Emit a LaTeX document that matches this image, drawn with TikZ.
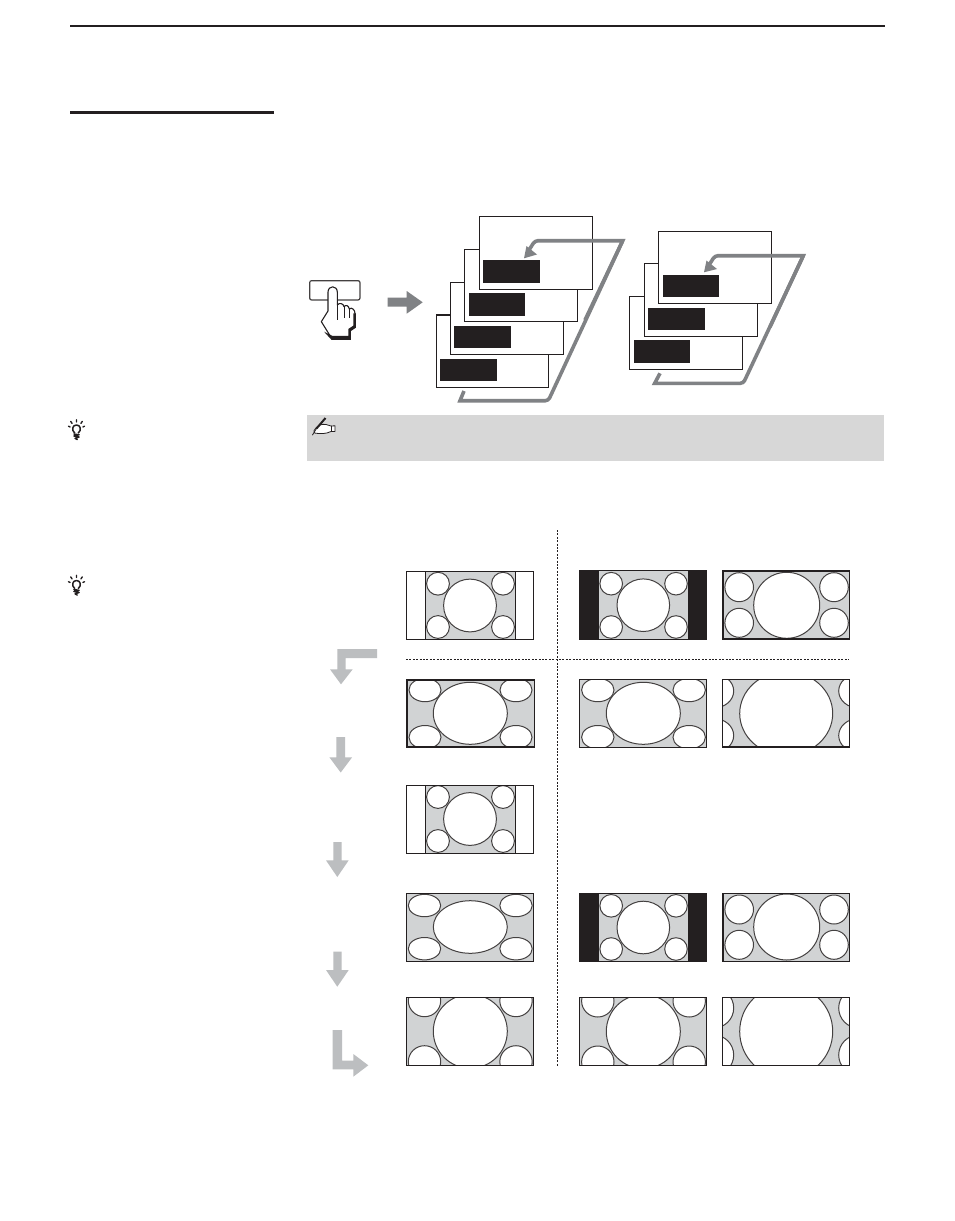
\documentclass[tikz,border=0pt]{standalone}
\definecolor{tvgray}{HTML}{D1D3D4}
\definecolor{tvblack}{HTML}{231F20}
\definecolor{notegray}{HTML}{D7D7D7}
\definecolor{loopgray}{HTML}{808285}
\definecolor{stepgray}{HTML}{BCBEC0}
\tikzset{
  x=1pt,y=-1pt,
  sheet/.style={draw=tvblack,fill=white,line width=1.1pt},
  label bar/.style={fill=tvblack},
  loop line/.style={draw=loopgray,line width=3.6pt,line cap=butt,line join=miter},
  loop head/.style={fill=loopgray},
  step arrow/.style={fill=stepgray},
  tv frame/.style={draw=tvblack,line width=#1},
  disc/.style={draw=tvblack!85,fill=white,line width=1pt},
  divider/.style={draw=tvblack,line width=.9pt,dash pattern=on 2pt off 1.4pt},
  icon/.style={draw=tvblack,line width=.9pt,line join=round,line cap=round},
}
% x0 y0 x1 y1 frame-width side-colour gray-x0 gray-x1 discs
\newcommand{\tvpanel}[9]{%
  \begin{scope}
    \clip (#1,#2) rectangle (#3,#4);
    \fill[#6] (#1,#2) rectangle (#3,#4);
    \fill[tvgray] (#7,#2) rectangle (#8,#4);
    #9
  \end{scope}
  \draw[tv frame=#5] (#1,#2) rectangle (#3,#4);
}
\newcommand{\el}[4]{\draw[disc] (#1,#2) ellipse [x radius=#3pt,y radius=#4pt];}
\newcommand{\sheetwithbar}[8]{%
  \draw[sheet] (#1,#2) rectangle (#3,#4);
  \fill[label bar] (#5,#6) rectangle (#7,#8);
}
\newcommand{\tipicon}[2]{%
  \begin{scope}[shift={(#1,#2)}]
    \draw[icon,line width=1.5pt] (-1.8,4) .. controls (-5.4,1) and (-4,-4) .. (0,-4) .. controls (4,-4) and (5.4,1) .. (1.8,4);
    \draw[icon,line width=1.4pt] (0,-7) -- (0,-9.2) (-4.4,-5.6) -- (-5.8,-7.6) (4.4,-5.6) -- (5.8,-7.6) (-6.4,-2) -- (-8,-2.8) (6.4,-2) -- (8,-2.8);
    \draw[icon,line width=1.4pt] (-2.6,5) -- (2.6,5.8) -- (-2.6,7) -- (2.6,8) -- (-1.4,9.4) -- (.8,10.6);
  \end{scope}
}
\begin{document}
\begin{tikzpicture}
\useasboundingbox (0,0) rectangle (954,1221);
\fill[white] (0,0) rectangle (954,1221);
% page rules
\draw[tvblack,line width=2pt] (70,26) -- (885,26);
\draw[tvblack,line width=3pt] (70,112.5) -- (274,112.5);
% button and hand
\begin{scope}[shift={(300,205)},x=.3333pt,y=-.3333pt]
  \draw[draw=tvblack!85,fill=white,line width=1.2pt,rounded corners=2pt] (29,227) rectangle (180,285);
  \draw[draw=tvblack,fill=white,line width=1.1pt,line join=round] (64,350) -- (84,318) -- (84,262) .. controls (84,240) and (112,240) .. (112,262) -- (112,300) .. controls (118,292) and (130,295) .. (132,305) .. controls (138,298) and (146,302) .. (148,312) .. controls (155,305) and (165,315) .. (165,325) -- (165,366) -- (150,376) -- (150,400) -- (95,400) -- cycle;
  \fill[tvblack] (72,380) -- (95,405) -- (153,405) -- (153,378) -- (168,368) -- (168,325) -- (160,325) -- (160,362) -- (145,372) -- (145,393) -- (98,393) -- cycle;
  \draw[tvblack,line width=.9pt] (112,300) -- (112,345) (132,305) -- (132,340) (148,312) -- (148,340);
\end{scope}
% big arrow to the stacks
\fill[loopgray] (387.7,297.7) -- (406.7,297.7) -- (406.7,291) -- (422.7,302.3) -- (406.7,313.7) -- (406.7,306.7) -- (387.7,306.7) -- cycle;
% first stack: loop is behind the sheets except for its top run
\draw[loop line] (464,391) -- (460,400.7) [rounded corners=3pt] -- (548.3,400.7) [sharp corners] -- (622.7,240.7);
\sheetwithbar{436.3}{315}{548.7}{387.3}{440}{359}{497}{380.7}
\sheetwithbar{450.3}{282.3}{563.3}{354.3}{454}{326}{511}{347.7}
\sheetwithbar{464.3}{249.3}{577.3}{321.3}{469}{293}{525}{315.7}
\sheetwithbar{479.3}{216.3}{592.3}{289.3}{483}{260}{540}{282.7}
\draw[loop line] (585,320) -- (622.7,240.7) [rounded corners=3pt] -- (535,240.7) [sharp corners] -- (529,250);
\fill[loop head] (524,258.3) -- (526.5,246) -- (537,254.5) -- cycle;
% second stack
\draw[loop line] (660,373.3) -- (654.7,383.3) [rounded corners=3pt] -- (743.3,383.3) [sharp corners] -- (803.3,255.7);
\sheetwithbar{629.3}{296.3}{742.3}{369.3}{634}{340}{690}{362.7}
\sheetwithbar{644.3}{263.3}{757.3}{336.3}{648}{308}{705}{329.7}
\sheetwithbar{658.3}{231.3}{771.3}{303.3}{663}{275}{719}{297}
\draw[loop line] (770,327) -- (803.3,255.7) [rounded corners=3pt] -- (715,255.7) [sharp corners] -- (709,265);
\fill[loop head] (704,272.3) -- (706.5,260.5) -- (717,269) -- cycle;
% note strip
\fill[notegray] (307,415) rectangle (884,461);
\draw[icon,fill=white,line width=.8pt] (316,428) .. controls (319,424.5) and (322,424) .. (326,424.5) -- (331,426) -- (335,425.8) -- (335,431.5) -- (331,431.5) .. controls (326,434) and (320,434) .. (314.5,433) .. controls (313,431.5) and (314,430) .. (316,428);
\draw[icon] (331,426) -- (331,431.5);
\draw[icon,line width=2pt,line cap=butt] (325.5,418) -- (316.5,428.5);
\draw[icon,line width=.8pt] (316.5,428.5) -- (312.5,435);
% tips
\tipicon{76.5}{429}
\tipicon{76.5}{584.5}
% dividers
\draw[divider] (557,530) -- (557,1067);
\draw[divider] (406,659.5) -- (849,659.5);
% step arrows
\fill[step arrow] (377,649) -- (337.3,649) -- (337.3,669.3) -- (330,669.3) -- (341,684.3) -- (352.7,669.3) -- (345.7,669.3) -- (345.7,658) -- (377,658) -- cycle;
\fill[step arrow] (336.4,737) -- (336.4,757.3) -- (329.4,757.3) -- (340.7,772.5) -- (352.1,757.3) -- (345.1,757.3) -- (345.1,737) -- cycle;
\fill[step arrow] (333.3,842) -- (333.3,860.3) -- (326,860.3) -- (337.3,877) -- (348.7,860.3) -- (341.7,860.3) -- (341.7,842) -- cycle;
\fill[step arrow] (333.3,951.7) -- (333.3,970) -- (326,970) -- (337.3,986.7) -- (348.7,970) -- (341.7,970) -- (341.7,951.7) -- cycle;
\fill[step arrow] (332.7,1030) -- (332.7,1069.3) -- (353.3,1069.3) -- (353.3,1076.7) -- (368.3,1065.3) -- (353.3,1054) -- (353.3,1060.7) -- (342,1060.7) -- (342,1030) -- cycle;
% panels: column A
\tvpanel{406.5}{571.5}{533.5}{639}{1pt}{white}{425.5}{515}{%
  \el{438}{583.7}{11.4}{11.4}\el{503}{583.7}{11.4}{11.4}\el{438}{627}{11.4}{11.4}\el{503}{627}{11.4}{11.4}\el{470}{605.5}{26.4}{26.4}}
\draw[tvblack,line width=.9pt] (425.5,571.5) -- (425.5,639) (515,571.5) -- (515,639);
\tvpanel{406.7}{680}{534.5}{747.2}{1.6pt}{tvgray}{406.7}{534.5}{%
  \el{425}{690}{16}{11.7}\el{516}{690}{16}{11.7}\el{425}{737.2}{16}{11.7}\el{516}{737.2}{16}{11.7}\el{470.3}{713.3}{37}{31}}
\tvpanel{406.5}{785.3}{533.5}{853}{1pt}{white}{425.5}{515}{%
  \el{438}{797}{11.4}{11.4}\el{503}{797}{11.4}{11.4}\el{438}{841}{11.4}{11.4}\el{503}{841}{11.4}{11.4}\el{470}{819}{26.4}{26.4}}
\draw[tvblack,line width=.9pt] (425.5,785.3) -- (425.5,853) (515,785.3) -- (515,853);
\tvpanel{406.3}{893.7}{533.3}{961.3}{1pt}{tvgray}{406.3}{533.3}{%
  \el{424.5}{905.5}{16.2}{11.2}\el{516}{905.5}{16.2}{11.2}\el{424.5}{948.7}{16.2}{11.2}\el{516}{948.7}{16.2}{11.2}\el{470.3}{927}{37}{26.3}}
\tvpanel{406.3}{997.3}{533.3}{1065.3}{1pt}{tvgray}{406.3}{533.3}{%
  \el{424.5}{1000.7}{16.2}{16}\el{516}{1000.7}{16.2}{16}\el{424.5}{1061.7}{16.2}{16}\el{516}{1061.7}{16.2}{16}\el{470.3}{1031.3}{37}{37}}
% panels: column B
\tvpanel{579.5}{570.5}{706.7}{639.7}{1pt}{tvblack}{598.7}{688}{%
  \el{611.2}{583.7}{11.3}{11.3}\el{676}{583.7}{11.3}{11.3}\el{611.2}{627}{11.3}{11.3}\el{676}{627}{11.3}{11.3}\el{643.3}{605.2}{26.3}{26.3}}
\tvpanel{579.5}{679.7}{706.5}{747.4}{1pt}{tvgray}{579.5}{706.5}{%
  \el{597.8}{690}{16.2}{11.7}\el{689.2}{690}{16.2}{11.7}\el{597.8}{737.2}{16.2}{11.7}\el{689.2}{737.2}{16.2}{11.7}\el{643.3}{713.3}{37}{31}}
\tvpanel{579.5}{893.5}{706.7}{961.5}{1pt}{tvblack}{598.7}{688}{%
  \el{611.2}{905.8}{11.3}{11.3}\el{676}{905.8}{11.3}{11.3}\el{611.2}{949}{11.3}{11.3}\el{676}{949}{11.3}{11.3}\el{643.3}{927.5}{26.3}{26.3}}
\tvpanel{579.5}{997.5}{706.5}{1065.5}{1pt}{tvgray}{579.5}{706.5}{%
  \el{597.8}{1001}{16.2}{16}\el{689.2}{1001}{16.2}{16}\el{597.8}{1062}{16.2}{16}\el{689.2}{1062}{16.2}{16}\el{643.3}{1031.5}{37}{37}}
% panels: column C
\tvpanel{722.8}{571}{849.6}{639.2}{1.7pt}{tvgray}{722.8}{849.6}{%
  \el{739.2}{587.2}{14.3}{14.5}\el{834}{587.2}{14.3}{14.5}\el{739.2}{622.8}{14.3}{14.5}\el{834}{622.8}{14.3}{14.5}\el{786.7}{605.3}{33}{33}}
\tvpanel{722.5}{679.7}{849.7}{747.2}{1pt}{tvgray}{722.5}{849.7}{%
  \el{713.7}{691}{20}{17}\el{858.7}{691}{20}{17}\el{713.7}{735.5}{20}{17}\el{858.7}{735.5}{20}{17}\el{786.2}{713.5}{46.5}{42}}
\draw[tvblack,line width=1.6pt] (722.5,746.9) -- (849.7,746.9);
\tvpanel{722.5}{893.7}{849.7}{961.5}{1pt}{tvgray}{722.5}{849.7}{%
  \el{739.2}{909.5}{14.3}{14.5}\el{834}{909.5}{14.3}{14.5}\el{739.2}{944.8}{14.3}{14.5}\el{834}{944.8}{14.3}{14.5}\el{786.7}{927}{33}{33}}
\draw[tvblack,line width=1.6pt] (722.9,893.7) -- (722.9,961.5);
\tvpanel{722.5}{997.5}{849.7}{1065.5}{1pt}{tvgray}{722.5}{849.7}{%
  \el{713.7}{1008}{20}{20}\el{858.7}{1008}{20}{20}\el{713.7}{1055}{20}{20}\el{858.7}{1055}{20}{20}\el{786.2}{1031.5}{46.5}{46.5}}
\end{tikzpicture}
\end{document}
